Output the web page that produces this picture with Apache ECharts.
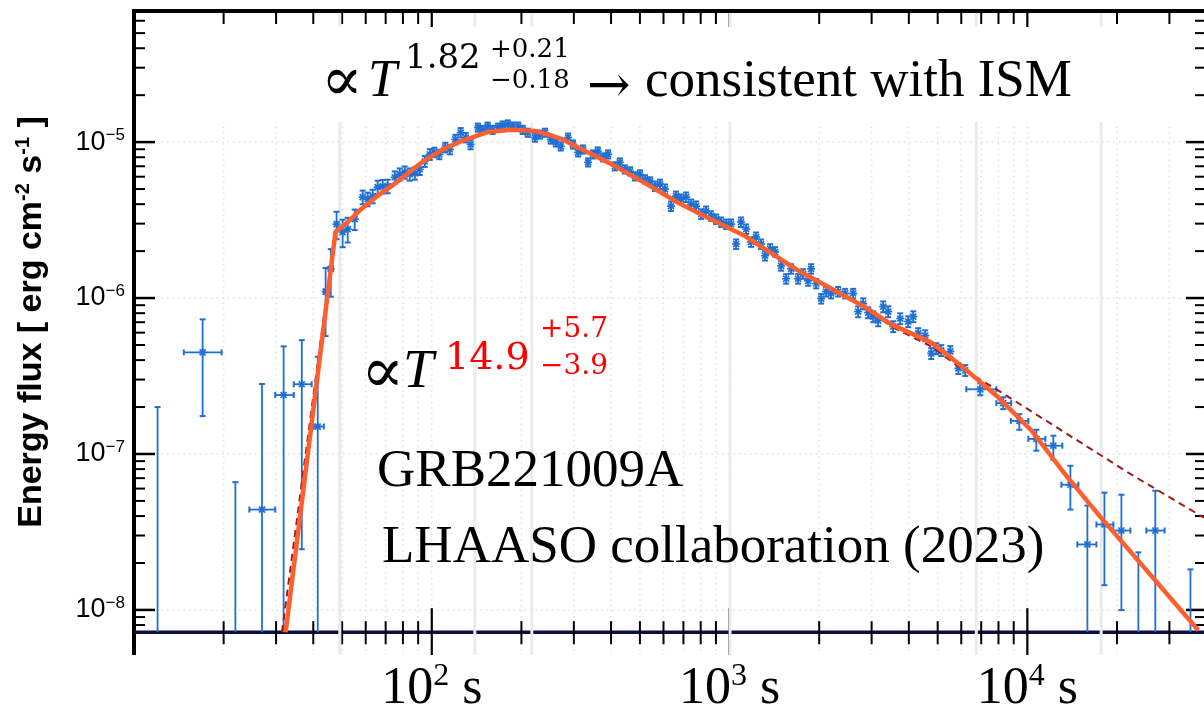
<!DOCTYPE html>
<html><head><meta charset="utf-8">
<script src="https://cdn.jsdelivr.net/npm/echarts@6/dist/echarts.min.js"></script>
<style>html,body{margin:0;padding:0;background:#fff}#c{width:1204px;height:715px}</style>
</head><body><div id="c"></div>
<script>
// ---------------- data ----------------
const X_MIN = 10, X_MAX = 39200;          // time axis range [s]
const Y_MIN = 5.14e-9, Y_MAX = 6.93e-5;   // energy-flux axis range
const BASE_FLUX = 7.2e-9;                 // level of the drawn horizontal axis line

const xMajorTicks = [100, 1000, 10000];
const xMinorTicks = [20,30,40,50,60,70,80,90, 200,300,400,500,600,700,800,900,
                     2000,3000,4000,5000,6000,7000,8000,9000, 20000,30000];
const yMajorTicks = [1e-8, 1e-7, 1e-6, 1e-5];
const yMinorTicks = [8e-9,9e-9, 2e-8,3e-8,4e-8,5e-8,6e-8,7e-8,8e-8,9e-8,
                     2e-7,3e-7,4e-7,5e-7,6e-7,7e-7,8e-7,9e-7,
                     2e-6,3e-6,4e-6,5e-6,6e-6,7e-6,8e-6,9e-6,
                     2e-5,3e-5,4e-5,5e-5,6e-5];
const greyLines = [49.1, 139.5, 216.8, 1004, 6740, 17700];

// dense light-curve points: [time, flux, relative error]
const densePoints = [
[47.9,2.98e-6,0.2],[50.2,2.65e-6,0.2],[52.2,2.77e-6,0.18],[55.1,3.21e-6,0.15],
[58.6,4.44e-6,0.1],[60.9,4.31e-6,0.1],[63.3,4.5e-6,0.1],[65.8,5.14e-6,0.1],[68.4,5.2e-6,0.1],[71.1,5.22e-6,0.1],
[75.1,5.95e-6,0.09],[78.0,6.22e-6,0.09],[81.1,6.4e-6,0.09],[84.3,6.22e-6,0.09],[87.7,6.31e-6,0.09],[91.1,6.69e-6,0.08],
[94.7,7.53e-6,0.08],[98.5,8.35e-6,0.08],[102,8.6e-6,0.07],[106,8.35e-6,0.07],[111,9.25e-6,0.07],[115,8.98e-6,0.07],
[120,1.04e-5,0.07],[125,1.15e-5,0.07],[130,1.07e-5,0.07],[135,9.67e-6,0.07],[143,1.24e-5,0.06],[148,1.2e-5,0.06],
[154,1.26e-5,0.06],[160,1.2e-5,0.06],[167,1.24e-5,0.06],[173,1.28e-5,0.06],[180,1.3e-5,0.06],[187,1.26e-5,0.06],
[195,1.26e-5,0.06],[202,1.2e-5,0.06],[210,1.15e-5,0.06],[222,1.07e-5,0.06],[231,1.12e-5,0.06],[240,1.15e-5,0.06],
[251,1.04e-5,0.06],[261,9.96e-6,0.06],[271,9.39e-6,0.06],[287,1.07e-5,0.06],[298,9.67e-6,0.06],[310,8.6e-6,0.06],
[322,8.98e-6,0.06],[335,7.42e-6,0.06],[348,8.35e-6,0.06],[361,8.72e-6,0.06],[376,7.99e-6,0.06],[391,8.35e-6,0.06],
[412,7.0e-6,0.06],[428,7.42e-6,0.06],[445,6.69e-6,0.06],[463,6.5e-6,0.06],[481,6.04e-6,0.06],[500,6.22e-6,0.06],
[520,5.78e-6,0.06],[541,5.61e-6,0.06],[562,5.22e-6,0.07],[584,5.37e-6,0.07],[607,5.0e-6,0.07],[636,3.89e-6,0.07],
[661,4.5e-6,0.07],[687,4.31e-6,0.07],[715,4.44e-6,0.07],[743,4.0e-6,0.07],[772,3.89e-6,0.07],[803,3.46e-6,0.07],
[834,3.61e-6,0.07],[867,3.36e-6,0.07],[902,3.21e-6,0.07],[937,3.07e-6,0.07],[974,2.98e-6,0.07],[1012,2.98e-6,0.07],
[1052,2.22e-6,0.07],[1093,3.07e-6,0.07],[1137,2.77e-6,0.07],[1181,2.29e-6,0.07],[1228,2.46e-6,0.07],[1276,2.22e-6,0.07],
[1316,1.87e-6,0.07],[1368,2.07e-6,0.07],[1422,1.98e-6,0.07],[1490,1.61e-6,0.07],[1549,1.33e-6,0.07],[1610,1.54e-6,0.07],
[1699,1.33e-6,0.07],[1766,1.43e-6,0.07],[1836,1.29e-6,0.07],[1879,1.54e-6,0.07],[1954,1.24e-6,0.07],[2031,9.91e-7,0.07],
[2111,1.1e-6,0.07],[2194,1.07e-6,0.07],[2315,1.1e-6,0.07],[2444,1.07e-6,0.07],[2601,1.07e-6,0.07],[2703,8.19e-7,0.08],
[2810,9.21e-7,0.08],[2921,8.07e-7,0.08],[3037,7.61e-7,0.08],[3156,7.17e-7,0.08],[3281,8.81e-7,0.08],[3411,8.19e-7,0.08],
[3545,6.57e-7,0.08],[3742,7.39e-7,0.08],[3981,7.07e-7,0.08],[4139,7.61e-7,0.08],[4302,5.93e-7,0.08],[4541,5.75e-7,0.08],
[4757,4.42e-7,0.08],[4944,4.75e-7,0.08],[5139,4.62e-7,0.08],[5512,4.55e-7,0.08],[5863,3.54e-7,0.08],[6188,3.44e-7,0.08]
];

// points with time bins: [time, flux, tLow, tHigh, fluxLow, fluxHigh]
const earlyPoints = [
[17.0,4.48e-7,14.7,19.7,1.75e-7,7.3e-7],
[26.9,4.4e-8,24.4,29.8,BASE_FLUX,2.81e-7],
[31.8,2.39e-7,29.8,34.4,BASE_FLUX,4.9e-7],
[36.6,2.8e-7,34.4,39.5,2.45e-8,5.37e-7],
[41.4,1.5e-7,40.1,43.4,BASE_FLUX,4.2e-7],
[44.0,1.1e-6,43.5,44.6,5.7e-7,1.56e-6],
[45.8,1.54e-6,45.1,46.6,1.02e-6,2.06e-6]
];
const latePoints = [
[6950,2.6e-7,6237,7870,2.38e-7,2.84e-7],
[8300,2.12e-7,7870,8830,1.94e-7,2.31e-7],
[9400,1.63e-7,8800,10080,1.43e-7,1.8e-7],
[10720,1.25e-7,10080,11500,1.05e-7,1.43e-7],
[12230,1.13e-7,11500,13110,9.17e-8,1.31e-7],
[13950,6.35e-8,13010,14840,4.4e-8,8.4e-8],
[15910,2.63e-8,14720,17060,BASE_FLUX,4.67e-8],
[18150,3.53e-8,17060,19450,1.44e-8,5.65e-8],
[20700,3.23e-8,19450,22180,9.98e-9,5.48e-8],
[26900,3.23e-8,25100,28900,BASE_FLUX,5.81e-8]
];
// error bars without a visible point: [time, fluxHigh]
const barsOnly = [[12.0,2.0e-7],[21.9,6.6e-8],[23600,2.34e-8],[35300,1.82e-8]];

// fitted curves [time, flux]
const fitSolid = [[32.3,7.2e-9],[47.5,2.66e-6],[52,3.05e-6],[57.7,3.7e-6],[66,4.55e-6],[75,5.4e-6],[92,7.35e-6],
[108,8.9e-6],[125,1.01e-5],[154,1.16e-5],[185,1.2e-5],[221,1.18e-5],[250,1.11e-5],[272,1.05e-5],[330,8.7e-6],
[400,7.25e-6],[500,5.7e-6],[670,4.1e-6],[800,3.45e-6],[1127,2.5e-6],[1700,1.5e-6],[2836,8.8e-7],[3480,6.8e-7],
[4750,5.2e-7],[5860,3.8e-7],[6670,3.1e-7],[8000,2.3e-7],[10300,1.42e-7],[13400,7.4e-8],[17300,4.1e-8],[37500,7.4e-9]];
const fitDashed = [[31.4,7.2e-9],[47.3,2.62e-6],[57.7,3.68e-6],[75,5.38e-6],[92,7.33e-6],[125,1.01e-5],[154,1.16e-5],
[185,1.2e-5],[221,1.18e-5],[272,1.05e-5],[330,8.7e-6],[400,7.25e-6],[500,5.7e-6],[670,4.1e-6],[800,3.45e-6],
[1127,2.5e-6],[1700,1.5e-6],[2836,8.7e-7],[3480,6.6e-7],[4750,4.9e-7],[5860,3.65e-7],[8000,2.55e-7],
[22300,7.4e-8],[39200,3.9e-8]];

// ---------------- drawing ----------------
const BLUE = '#1f6fd3';
const pointData = [];
densePoints.forEach(p => pointData.push([p[0], p[1], p[1]*(1-p[2]), p[1]*(1+p[2]), p[0], p[0], 1]));
earlyPoints.concat(latePoints).forEach(p => pointData.push([p[0], p[1], p[4], p[5], p[2], p[3], 1]));
barsOnly.forEach(p => pointData.push([p[0], p[1], BASE_FLUX, p[1], p[0], p[0], 0]));

function renderPoint(params, api) {
  const t = api.value(0), f = api.value(1), fLo = api.value(2), fHi = api.value(3);
  const tLo = api.value(4), tHi = api.value(5), star = api.value(6);
  const c = api.coord([t, f]);
  const yLo = api.coord([t, fLo])[1], yHi = api.coord([t, fHi])[1];
  const kids = [];
  const L = (x1, y1, x2, y2, w) => kids.push({type: 'line', shape: {x1, y1, x2, y2}, style: {stroke: BLUE, lineWidth: w || 1.8}});
  L(c[0], yLo, c[0], yHi);
  L(c[0] - 3, yHi, c[0] + 3, yHi, 2);
  if (fLo > BASE_FLUX * 1.001) L(c[0] - 3, yLo, c[0] + 3, yLo, 2);
  if (tHi > tLo) {
    const xLo = api.coord([tLo, f])[0], xHi = api.coord([tHi, f])[0];
    L(xLo, c[1], xHi, c[1]);
    L(xLo, c[1] - 3, xLo, c[1] + 3, 2);
    L(xHi, c[1] - 3, xHi, c[1] + 3, 2);
  }
  if (star) {
    const r = 4, d = 3;
    L(c[0] - r, c[1], c[0] + r, c[1], 1.7);
    L(c[0], c[1] - r, c[0], c[1] + r, 1.7);
    L(c[0] - d, c[1] - d, c[0] + d, c[1] + d, 1.7);
    L(c[0] - d, c[1] + d, c[0] + d, c[1] - d, 1.7);
  }
  return {type: 'group', children: kids};
}

function renderGrid(params, api) {
  const cs = params.coordSys, kids = [];
  const st = {stroke: '#e2e2e2', lineWidth: 1.5, lineDash: [1.5, 4]};
  xMinorTicks.concat(xMajorTicks).forEach(v => {
    const x = api.coord([v, 1e-6])[0];
    kids.push({type: 'line', shape: {x1: x, y1: cs.y, x2: x, y2: cs.y + cs.height}, style: st});
  });
  yMajorTicks.forEach(v => {
    const y = api.coord([100, v])[1];
    kids.push({type: 'line', shape: {x1: cs.x, y1: y, x2: cs.x + cs.width, y2: y}, style: st});
  });
  return {type: 'group', children: kids};
}

function renderFrame(params, api) {
  const cs = params.coordSys, kids = [];
  const left = cs.x, right = cs.x + cs.width, top = cs.y, bottom = cs.y + cs.height;
  const axisY = api.coord([100, BASE_FLUX])[1];
  const L = (x1, y1, x2, y2, w, col) => kids.push({type: 'line', shape: {x1, y1, x2, y2}, style: {stroke: col || '#000', lineWidth: w}});
  L(left, top - 2, left, bottom, 4);
  L(left - 2, top, right, top, 4);
  L(left, axisY, right, axisY, 3.5, '#0c0c3e');
  xMinorTicks.forEach(v => {
    const x = api.coord([v, 1e-6])[0];
    L(x, axisY - 11, x, axisY + 12, 2);
    L(x, top, x, top + 13, 2);
  });
  xMajorTicks.forEach(v => {
    const x = api.coord([v, 1e-6])[0];
    L(x, axisY - 24, x, bottom, 2.2);
    L(x, top, x, top + 17, 2.2);
  });
  yMinorTicks.forEach(v => {
    const y = api.coord([100, v])[1];
    L(left, y, left + 11, y, 2);
    L(right, y, right - 9, y, 2);
  });
  yMajorTicks.forEach(v => {
    const y = api.coord([100, v])[1];
    L(left, y, left + 21, y, 2.5);
    L(right, y, right - 18, y, 2.5);
  });
  return {type: 'group', children: kids};
}

function renderBand(params, api) {
  const cs = params.coordSys;
  const x = api.coord([api.value(0), 1e-6])[0];
  return {type: 'line', shape: {x1: x, y1: cs.y + 2, x2: x, y2: cs.y + cs.height}, style: {stroke: '#ebebeb', lineWidth: 3}};
}

const SERIF = '"Liberation Serif", "DejaVu Serif", serif';
const MATH = '"DejaVu Serif", serif';
const SANS = '"Liberation Sans", Arial, sans-serif';
function txt(x, y, text, size, opts) {
  return Object.assign({type: 'text', x: x, y: y, z: 20,
    style: Object.assign({text: text, fontSize: size, fontFamily: SERIF, fill: '#000', verticalAlign: 'middle', align: 'left'}, (opts && opts.style) || {})},
    (opts && opts.el) || {});
}

const chart = echarts.init(document.getElementById('c'), null, {renderer: 'canvas'});
chart.setOption({
  animation: false,
  backgroundColor: '#fff',
  grid: {left: 134, top: 11, width: 1072, height: 647, containLabel: false},
  xAxis: {
    type: 'log', logBase: 10, min: X_MIN, max: X_MAX,
    axisLine: {show: false}, axisTick: {show: false}, splitLine: {show: false}, minorTick: {show: false},
    axisLabel: {
      margin: 6, showMinLabel: false, showMaxLabel: false,
      formatter: v => {
        const e = Math.log10(v), n = Math.round(e);
        if (Math.abs(e - n) > 0.01 || n < 2) return '';
        return '{b|10}{s|' + n + '}{b| s}';
      },
      rich: {
        b: {fontSize: 52, fontFamily: SERIF, color: '#000', lineHeight: 56},
        s: {fontSize: 32, fontFamily: SERIF, color: '#000', verticalAlign: 'top', lineHeight: 30}
      }
    }
  },
  yAxis: {
    type: 'log', logBase: 10, min: Y_MIN, max: Y_MAX,
    axisLine: {show: false}, axisTick: {show: false}, splitLine: {show: false}, minorTick: {show: false},
    axisLabel: {
      margin: 9,
      formatter: v => {
        const e = Math.log10(v), n = Math.round(e);
        if (Math.abs(e - n) > 0.01) return '';
        return '{b|10}{s|\u2212' + (-n) + '}';
      },
      rich: {
        b: {fontSize: 27, fontFamily: SANS, color: '#000', lineHeight: 30},
        s: {fontSize: 17, fontFamily: SANS, color: '#000', verticalAlign: 'top', lineHeight: 15}
      }
    }
  },
  graphic: [
    {type: 'rect', z: 4, shape: {x: 158, y: 27, width: 1027, height: 95}, style: {fill: '#fff'}},
    // axis title
    {type: 'text', z: 20, x: 32, y: 322, rotation: Math.PI / 2,
      style: {text: '{b|Energy flux [ erg cm}{s|-2}{b| s}{s|-1}{b| ]}', align: 'center', verticalAlign: 'middle',
        rich: {
          b: {fontSize: 34, fontWeight: 'bold', fontFamily: SANS, fill: '#000', lineHeight: 38},
          s: {fontSize: 20, fontWeight: 'bold', fontFamily: SANS, fill: '#000', verticalAlign: 'top', lineHeight: 20}
        }}},
    // top annotation
    txt(321, 84, '\u221D', 62, {style: {fontFamily: MATH}}),
    txt(368, 82, 'T', 52, {style: {fontStyle: 'italic'}}),
    txt(405, 59, '1.82', 34, {style: {fontFamily: MATH}}),
    txt(490, 50, '+0.21', 26, {style: {fontFamily: MATH}}),
    txt(490, 81, '\u22120.18', 26, {style: {fontFamily: MATH}}),
    txt(587, 88, '\u2192', 52, {style: {fontFamily: MATH}}),
    txt(645, 82, 'consistent with ISM', 53),
    // rise annotation
    txt(361, 375, '\u221D', 64, {style: {fontFamily: MATH}}),
    txt(403, 373, 'T', 55, {style: {fontStyle: 'italic'}}),
    txt(445, 359, '14.9', 38, {style: {fill: '#ff0000', fontFamily: MATH}}),
    txt(540, 330, '+5.7', 28, {style: {fill: '#ff0000', fontFamily: MATH}}),
    txt(540, 367, '\u22123.9', 28, {style: {fill: '#ff0000', fontFamily: MATH}}),
    // source text
    txt(377, 472, 'GRB221009A', 53),
    txt(382, 548, 'LHAASO collaboration (2023)', 53)
  ],
  series: [
    {type: 'custom', name: 'grid', z: 1, silent: true, renderItem: renderGrid, data: [[100, 1e-6]]},
    {type: 'custom', name: 'frame', z: 2, silent: true, renderItem: renderFrame, data: [[100, 1e-6]]},
    {type: 'custom', name: 'bands', z: 3, silent: true, renderItem: renderBand, data: greyLines.map(v => [v, 1e-6])},
    {type: 'custom', name: 'points', z: 5, silent: true, renderItem: renderPoint, data: pointData,
      encode: {x: 0, y: 1}},
    {type: 'line', name: 'fit (no break)', z: 6, data: fitDashed, showSymbol: false, silent: true,
      lineStyle: {color: '#9c1b1b', width: 2, type: [7, 5]}},
    {type: 'line', name: 'fit', z: 7, data: fitSolid, showSymbol: false, silent: true,
      lineStyle: {color: '#ff5e2e', width: 4.5}}
  ]
});
</script>
</body></html>
